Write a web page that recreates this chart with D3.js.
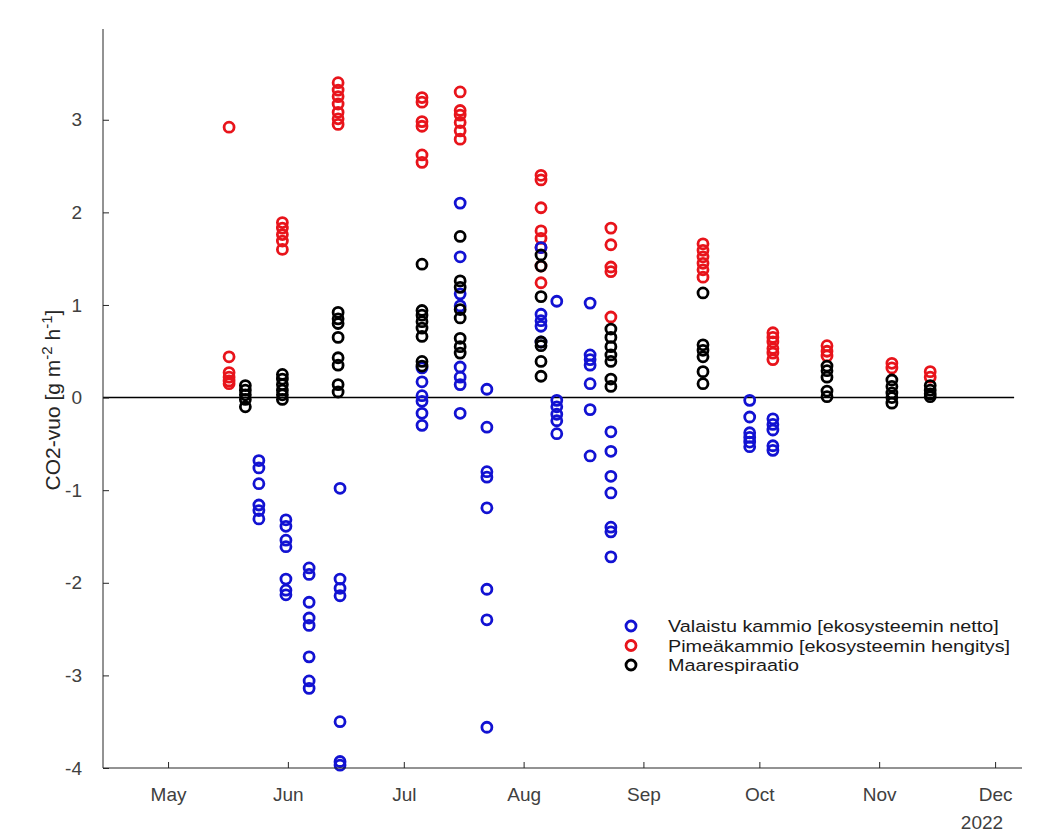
<!DOCTYPE html>
<html>
<head>
<meta charset="utf-8">
<script src="https://cdn.jsdelivr.net/npm/d3@7"></script>
<style>
  body { margin: 0; background: #fff; }
  svg { font-family: "Liberation Sans", Arial, sans-serif; }
</style>
</head>
<body>
<div id="chart"></div>
<script>
// Measurement days and the CO2 fluxes read per day (g m-2 h-1)
const valaistu = [
    ['2022-05-24 12', [-0.68, -0.76, -0.93, -1.16, -1.22, -1.31]],
    ['2022-05-31 12', [-1.32, -1.39, -1.54, -1.61, -1.96, -2.08, -2.13]],
    ['2022-06-06 12', [-1.84, -1.91, -2.21, -2.38, -2.46, -2.8, -3.06, -3.14]],
    ['2022-06-14 12', [-0.98, -1.96, -2.06, -2.14, -3.5, -3.93, -3.97]],
    ['2022-07-05 17', [0.32, 0.17, 0.02, -0.04, -0.17, -0.3]],
    ['2022-07-15 14', [2.1, 1.52, 1.12, 0.99, 0.33, 0.22, 0.14, -0.17]],
    ['2022-07-22 12', [0.09, -0.32, -0.8, -0.86, -1.19, -2.07, -2.4, -3.56]],
    ['2022-08-05 12', [1.62, 0.9, 0.83, 0.77, 0.6]],
    ['2022-08-09 14', [1.04, -0.03, -0.1, -0.18, -0.25, -0.39]],
    ['2022-08-18 05', [1.02, 0.46, 0.41, 0.35, 0.15, -0.13, -0.63]],
    ['2022-08-23 14', [-0.37, -0.58, -0.85, -1.03, -1.4, -1.45, -1.72]],
    ['2022-09-28 12', [-0.03, -0.21, -0.38, -0.43, -0.48, -0.53]],
    ['2022-10-04 12', [-0.23, -0.29, -0.35, -0.52, -0.57]],
];

const pimea = [
    ['2022-05-16 19', [2.92, 0.44, 0.27, 0.22, 0.18, 0.15]],
    ['2022-05-30 14', [1.89, 1.83, 1.76, 1.69, 1.6]],
    ['2022-06-14 00', [3.4, 3.32, 3.25, 3.17, 3.08, 3.01, 2.95]],
    ['2022-07-05 17', [3.24, 3.19, 2.98, 2.93, 2.62, 2.54]],
    ['2022-07-15 14', [3.3, 3.1, 3.05, 2.97, 2.88, 2.79]],
    ['2022-08-05 12', [2.4, 2.35, 2.05, 1.8, 1.72, 1.62, 1.42, 1.24]],
    ['2022-08-23 14', [1.83, 1.65, 1.41, 1.36, 0.87]],
    ['2022-09-16 10', [1.66, 1.59, 1.52, 1.45, 1.38, 1.3]],
    ['2022-10-04 12', [0.7, 0.65, 0.6, 0.53, 0.48, 0.41]],
    ['2022-10-18 12', [0.56, 0.5, 0.45]],
    ['2022-11-04 07', [0.37, 0.32]],
    ['2022-11-14 05', [0.28, 0.22]],
];

const maarespiraatio = [
    ['2022-05-21 00', [0.13, 0.08, 0.03, -0.02, -0.1]],
    ['2022-05-30 14', [0.25, 0.2, 0.14, 0.08, 0.03, -0.02]],
    ['2022-06-14 00', [0.92, 0.85, 0.8, 0.65, 0.43, 0.35, 0.14, 0.06]],
    ['2022-07-05 17', [1.44, 0.94, 0.89, 0.82, 0.75, 0.66, 0.39, 0.34]],
    ['2022-07-15 14', [1.74, 1.26, 1.19, 0.95, 0.86, 0.64, 0.55, 0.48]],
    ['2022-08-05 12', [1.54, 1.42, 1.09, 0.6, 0.56, 0.39, 0.23]],
    ['2022-08-23 14', [0.74, 0.65, 0.55, 0.46, 0.39, 0.2, 0.12]],
    ['2022-09-16 10', [1.13, 0.57, 0.51, 0.44, 0.28, 0.15]],
    ['2022-10-18 12', [0.34, 0.29, 0.22, 0.07, 0.01]],
    ['2022-11-04 07', [0.19, 0.12, 0.05, 0.0, -0.06]],
    ['2022-11-14 05', [0.13, 0.08, 0.04, 0.01]],
];

const seriesLabels = [
    'Valaistu kammio [ekosysteemin netto]',
    'Pimeäkammio [ekosysteemin hengitys]',
    'Maarespiraatio',
];
const yTicks = [-4, -3, -2, -1, 0, 1, 2, 3];
const monthTicks = ['2022-05-01 00', '2022-06-01 00', '2022-07-01 00', '2022-08-01 00',
    '2022-09-01 00', '2022-10-01 00', '2022-11-01 00', '2022-12-01 00'];
const xDomain = ['2022-04-14 04', '2022-12-07 23'];
const yDomain = [-4, 3.98];
const zeroLineEnd = '2022-12-05 22';

const parse = d3.utcParse('%Y-%m-%d %H');

function renderChart(chartId) {
    const container = d3.select(`#${chartId}`);
    container.selectAll('*').remove();

    const width = 1046, height = 834;
    const left = 103, right = 1022, top = 29, bottom = 768;
    const tickFont = '19px';

    const svg = container.append('svg')
        .attr('width', width)
        .attr('height', height);

    svg.append('rect').attr('width', width).attr('height', height).attr('fill', '#fff');

    const x = d3.scaleUtc().domain(xDomain.map(parse)).range([left, right]);
    const y = d3.scaleLinear().domain(yDomain).range([bottom, top]);

    // zero line
    svg.append('line')
        .attr('x1', left).attr('x2', x(parse(zeroLineEnd)))
        .attr('y1', y(0)).attr('y2', y(0))
        .attr('stroke', '#000').attr('stroke-width', 1.5);

    // points: red first, then blue, black on top
    const series = [
        { rows: pimea, color: '#e8141b' },
        { rows: valaistu, color: '#1212d2' },
        { rows: maarespiraatio, color: '#000' },
    ];
    series.forEach((s) => {
        const pts = s.rows.flatMap(([d, vals]) => vals.map((v) => ({ date: parse(d), value: v })));
        svg.append('g').selectAll('circle')
            .data(pts)
            .enter()
            .append('circle')
            .attr('cx', (d) => x(d.date))
            .attr('cy', (d) => y(d.value))
            .attr('r', 5)
            .attr('fill', 'none')
            .attr('stroke', s.color)
            .attr('stroke-width', 2.8);
    });

    // Y axis (ticks inward)
    const yAxis = svg.append('g')
        .attr('transform', `translate(${left},0)`)
        .call(d3.axisRight(y).tickValues(yTicks).tickSize(6).tickFormat((d) => String(d)));
    yAxis.select('.domain').attr('d', `M0,${top}V${bottom}`).attr('stroke', '#262626');
    yAxis.selectAll('.tick line').attr('stroke', '#262626');
    yAxis.selectAll('.tick text')
        .attr('x', -21)
        .attr('text-anchor', 'end')
        .attr('fill', '#404040')
        .style('font-size', tickFont)
        .style('font-family', '"Liberation Sans", Arial, sans-serif');

    // X axis (ticks inward)
    const xAxis = svg.append('g')
        .attr('transform', `translate(0,${bottom})`)
        .call(d3.axisTop(x).tickValues(monthTicks.map(parse)).tickSize(6).tickFormat(d3.utcFormat('%b')));
    xAxis.select('.domain').attr('d', `M${left},0H${right}`).attr('stroke', '#262626');
    xAxis.selectAll('.tick line').attr('stroke', '#262626');
    xAxis.selectAll('.tick text')
        .attr('y', 33)
        .attr('fill', '#404040')
        .style('font-size', tickFont)
        .style('font-family', '"Liberation Sans", Arial, sans-serif');

    svg.append('text')
        .attr('x', x(parse(monthTicks[monthTicks.length - 1])) + 8)
        .attr('y', 829)
        .attr('text-anchor', 'end')
        .attr('fill', '#404040')
        .style('font-size', tickFont)
        .text('2022');

    // Y label
    const yl = svg.append('text')
        .attr('transform', 'translate(60,400) rotate(-90)')
        .attr('text-anchor', 'middle')
        .attr('fill', '#262626')
        .style('font-size', '21px');
    yl.append('tspan').text('CO2-vuo [g m');
    yl.append('tspan').attr('dy', -8).style('font-size', '15px').text('-2');
    yl.append('tspan').attr('dy', 8).text(' h');
    yl.append('tspan').attr('dy', -8).style('font-size', '15px').text('-1');
    yl.append('tspan').attr('dy', 8).text(']');

    // Legend (glyphs a bit wide, as in the reference)
    const legendColors = ['#1212d2', '#e8141b', '#000'];
    const legend = svg.append('g').attr('transform', 'translate(631,626)');
    seriesLabels.forEach((lab, i) => {
        const g = legend.append('g').attr('transform', `translate(0,${i * 19.5})`);
        g.append('circle').attr('r', 5).attr('fill', 'none')
            .attr('stroke', legendColors[i]).attr('stroke-width', 2.8);
        g.append('text')
            .attr('transform', 'translate(37,6) scale(1.2,1)')
            .attr('fill', '#1a1a1a')
            .style('font-size', '16.5px')
            .text(lab);
    });
}

renderChart('chart');
</script>
</body>
</html>
